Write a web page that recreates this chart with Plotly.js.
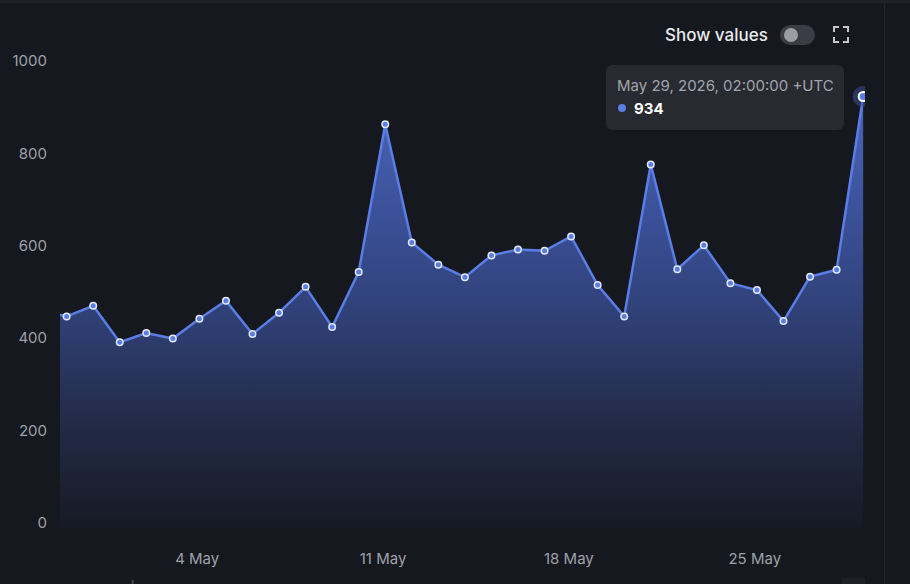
<!DOCTYPE html>
<html>
<head>
<meta charset="utf-8">
<script src="https://cdn.plot.ly/plotly-3.0.1.min.js"></script>
<style>
html,body{margin:0;padding:0;background:#16181f;}
#chart{width:910px;height:584px;}
</style>
</head>
<body>
<div id="chart"></div>
<script>
// ---- data ----
const dates = ['2026-04-28','2026-04-29','2026-04-30','2026-05-01','2026-05-02','2026-05-03','2026-05-04','2026-05-05','2026-05-06','2026-05-07','2026-05-08','2026-05-09','2026-05-10','2026-05-11','2026-05-12','2026-05-13','2026-05-14','2026-05-15','2026-05-16','2026-05-17','2026-05-18','2026-05-19','2026-05-20','2026-05-21','2026-05-22','2026-05-23','2026-05-24','2026-05-25','2026-05-26','2026-05-27','2026-05-28','2026-05-29'];
const values = [472,458,481,402,422,410,453,492,420,466,522,435,554,874,618,570,543,590,603,600,631,526,458,787,560,612,530,515,448,544,559,934];
const tickDates = ['2026-05-04','2026-05-11','2026-05-18','2026-05-25'];
const tickLabels = ['4 May','11 May','18 May','25 May'];
const yTicks = [0,200,400,600,800,1000];
const hoverLabel = 'May 29, 2026, 02:00:00 +UTC';
const hoverValue = '934';

const xs = dates.map(d => d + ' 02:00');
const lastX = xs[xs.length-1], lastY = values[values.length-1];

// pixel -> paper helpers
const L=60, R=45, T=66, B=56, W=910, H=584;
const pw = W-L-R, ph = H-T-B;
const fx = x => (x-L)/pw;
const fy = y => (H-B-y)/ph;

function roundRect(x0,y0,x1,y1,r){
  return 'M'+fx(x0+r)+','+fy(y0)+' L'+fx(x1-r)+','+fy(y0)+' Q'+fx(x1)+','+fy(y0)+' '+fx(x1)+','+fy(y0+r)+
    ' L'+fx(x1)+','+fy(y1-r)+' Q'+fx(x1)+','+fy(y1)+' '+fx(x1-r)+','+fy(y1)+
    ' L'+fx(x0+r)+','+fy(y1)+' Q'+fx(x0)+','+fy(y1)+' '+fx(x0)+','+fy(y1-r)+
    ' L'+fx(x0)+','+fy(y0+r)+' Q'+fx(x0)+','+fy(y0)+' '+fx(x0+r)+','+fy(y0)+' Z';
}
function pline(pts){
  return 'M' + pts.map(p => fx(p[0])+','+fy(p[1])).join(' L');
}
function circ(cx,cy,r,color){
  return {type:'circle',xref:'paper',yref:'paper',x0:fx(cx-r),x1:fx(cx+r),y0:fy(cy+r),y1:fy(cy-r),fillcolor:color,line:{width:0},layer:'above'};
}
function box(x0,y0,x1,y1,color,layer){
  return {type:'rect',xref:'paper',yref:'paper',x0:fx(x0),x1:fx(x1),y0:fy(y1),y1:fy(y0),fillcolor:color,line:{width:0},layer:layer||'above'};
}

const traces = [
  {
    x: xs, y: values, type:'scatter', mode:'lines+markers',
    line:{color:'#5a7de6', width:2.5},
    marker:{size:6.5, color:'#5a7de6', line:{color:'#e3e9ff', width:1.5}},
    fill:'tozeroy',
    fillgradient:{type:'vertical', start:0, stop:934,
      colorscale:[[0,'#171a24'],[0.25,'#232b48'],[0.5,'#304178'],[0.75,'#3c529c'],[1,'#4a65b8']]},
    hoverinfo:'skip'
  },
  {
    x:[lastX], y:[lastY], type:'scatter', mode:'markers',
    marker:{size:21, color:'rgba(60,80,150,0.55)', line:{width:0}},
    hoverinfo:'skip'
  },
  {
    x:[lastX], y:[lastY], type:'scatter', mode:'markers',
    marker:{size:9, color:'#5a7de6', line:{color:'#ffffff', width:2}},
    hoverinfo:'skip'
  }
];

const iconColor = '#c4c6cc';
const shapes = [
  // top strip
  box(0,0,910,3,'#1f2129','below'),
  // right separator
  {type:'line',xref:'paper',yref:'paper',x0:fx(884.5),x1:fx(884.5),y0:fy(3),y1:fy(584),line:{color:'#23252d',width:1.2}},
  // bottom small fragments
  box(842,578,865,584,'#1e2028'),
  box(131.5,580,134,584,'#3a3c48'),
  // tooltip box
  {type:'path',xref:'paper',yref:'paper',path:roundRect(606,65,844,130,7),fillcolor:'#272a31',line:{width:0},layer:'above'},
  // toggle pill
  circ(790,35,10,'#3a3d46'), circ(805,35,10,'#3a3d46'),
  box(790,25,805,45,'#3a3d46'),
  circ(791,35,7,'#9c9ea5'),
  // fullscreen icon corners
  {type:'path',xref:'paper',yref:'paper',path:pline([[834,32],[834,27],[839,27]]),line:{color:iconColor,width:2},layer:'above'},
  {type:'path',xref:'paper',yref:'paper',path:pline([[843,27],[848,27],[848,32]]),line:{color:iconColor,width:2},layer:'above'},
  {type:'path',xref:'paper',yref:'paper',path:pline([[834,37],[834,42],[839,42]]),line:{color:iconColor,width:2},layer:'above'},
  {type:'path',xref:'paper',yref:'paper',path:pline([[843,42],[848,42],[848,37]]),line:{color:iconColor,width:2},layer:'above'},
  // tooltip dot
  circ(622,108,4,'#5a7de6')
];

const annotations = [
  {xref:'paper',yref:'paper',x:fx(663),y:fy(35),text:'Show values',showarrow:false,xanchor:'left',yanchor:'middle',
   font:{family:'Inter, sans-serif',size:17,color:'#e8e9ec',weight:500}},
  {xref:'paper',yref:'paper',x:fx(615),y:fy(86),text:hoverLabel,showarrow:false,xanchor:'left',yanchor:'middle',
   font:{family:'Inter, sans-serif',size:15,color:'#a2a5ac'}},
  {xref:'paper',yref:'paper',x:fx(632),y:fy(108),text:'<b>'+hoverValue+'</b>',showarrow:false,xanchor:'left',yanchor:'middle',
   font:{family:'Inter, sans-serif',size:15,color:'#ffffff'}}
];

const layout = {
  width:W, height:H,
  margin:{l:L,r:R,t:T,b:B,pad:0},
  paper_bgcolor:'#16181f', plot_bgcolor:'#16181f',
  showlegend:false,
  font:{family:'Inter, sans-serif', color:'#9ea1a9', size:15},
  xaxis:{type:'date', range:['2026-04-28 20:00','2026-05-29 03:40'],
    tickmode:'array', tickvals:tickDates, ticktext:tickLabels,
    showgrid:false, zeroline:false, showline:false, ticks:'', ticklabelstandoff:20,
    tickfont:{family:'Inter, sans-serif', size:15, color:'#9ea1a9'}, fixedrange:true},
  yaxis:{range:[0,1000], tickmode:'array', tickvals:yTicks, ticktext:yTicks.map(String),
    showgrid:false, zeroline:false, showline:false, ticks:'', ticklabelstandoff:12, ticklabelshift:-5,
    tickfont:{family:'Inter, sans-serif', size:15, color:'#9ea1a9'}, fixedrange:true},
  shapes:shapes,
  annotations:annotations,
  hovermode:false
};

Plotly.newPlot('chart', traces, layout, {displayModeBar:false, staticPlot:true});
</script>
</body>
</html>
